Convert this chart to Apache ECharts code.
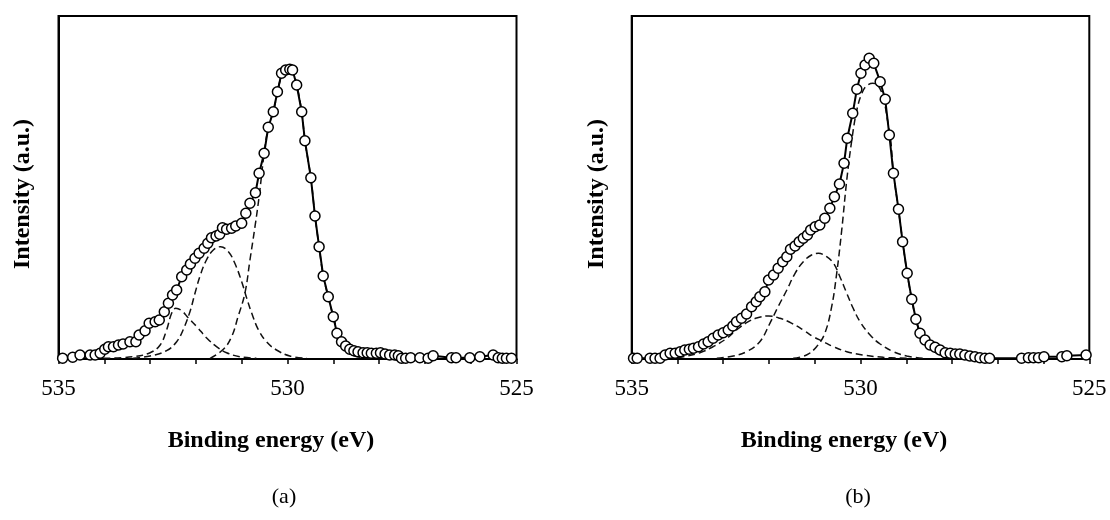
<!DOCTYPE html>
<html>
<head>
<meta charset="utf-8">
<script src="https://cdn.jsdelivr.net/npm/echarts@6/dist/echarts.min.js"></script>
<style>
html,body{margin:0;padding:0;background:#fff;}
#chart{width:1110px;height:520px;}
</style>
</head>
<body>
<div id="chart"></div>
<script>
// ---------- tick labels ----------
var xTickLabels = [535, 530, 525];
var panelLabels = ['(a)', '(b)'];
var xTitle = 'Binding energy (eV)';
var yTitle = 'Intensity (a.u.)';

// ---------- panel (a): measured points [binding energy eV, intensity a.u.] ----------
var dataA = [
[534.91,0.7],[534.69,1.7],[534.53,4],[534.31,4],[534.20,4],[534.09,5.7],[533.99,9.7],[533.91,12.3],
[533.80,12.3],[533.69,14],[533.59,15],[533.44,17.3],[533.31,17.3],[533.24,24],[533.11,28.3],[533.02,35.7],
[532.89,37.3],[532.80,39],[532.69,47.3],[532.60,55.7],[532.51,64],[532.42,69],[532.31,82.3],[532.20,89],
[532.12,95],[532.02,100.7],[531.93,105.7],[531.82,110.7],[531.74,115.7],[531.66,121.3],[531.56,123],
[531.48,124.7],[531.42,131.3],[531.33,129.7],[531.22,130.7],[531.13,133],[531.00,135.7],[530.91,145.7],
[530.82,155.7],[530.70,166.3],[530.62,185.7],[530.51,205.7],[530.42,231.7],[530.31,247.3],[530.22,267.3],
[530.13,285.7],[530.04,289],[529.95,289.7],[529.89,289],[529.80,274],[529.69,247.3],[529.62,218.3],
[529.49,181.3],[529.40,143],[529.31,112.3],[529.22,83],[529.11,62.3],[529.00,42.3],[528.92,25.7],
[528.82,17.3],[528.73,13],[528.64,9.7],[528.55,8.3],[528.46,7.3],[528.35,6.3],[528.26,6.3],[528.17,5.7],
[528.06,5.7],[527.97,6.3],[527.87,5],[527.77,4],[527.66,4],[527.58,3.3],[527.51,0.7],[527.42,0.7],
[527.31,1.3],[527.11,1.3],[526.93,0.7],[526.82,3.3],[526.42,1.3],[526.32,1.3],[526.02,1.3],[525.80,2.3],
[525.51,4],[525.40,1.3],[525.31,0.7],[525.22,0.7],[525.11,0.7]
];
var comp1A = [
[534.02,0.7],[533.37,2.3],[533.00,6.3],[532.78,14],[532.64,29],[532.53,45.7],[532.44,50.7],[532.31,48.3],
[532.17,41.3],[531.98,32.3],[531.77,21.3],[531.55,12.3],[531.33,6.3],[531.04,2.3],[530.68,0.7]
];
var comp2A = [
[533.37,0.7],[533.00,3],[532.64,8.3],[532.42,17.3],[532.28,29],[532.13,47.3],[532.02,65.7],[531.91,83],
[531.77,99],[531.62,109],[531.46,112.3],[531.29,107.3],[531.15,95.7],[531.00,77.3],[530.89,60.7],
[530.78,45.7],[530.64,29.7],[530.46,17.3],[530.24,9],[529.95,3],[529.58,0.7]
];
var comp3A = [
[531.69,0.7],[531.40,9.7],[531.22,22.3],[531.08,42.3],[530.93,65.7],[530.82,99],[530.71,132.3],
[530.62,162.3],[530.51,205.7],[530.42,231.7],[530.31,247.3],[530.22,266.3],[530.13,282.3],[530.02,288],
[529.91,288.3],[529.80,274],[529.69,247.3],[529.62,218.3],[529.49,181.3],[529.40,143],[529.31,112.3],
[529.22,83],[529.11,62.3],[529.00,42.3],[528.89,25.7],[528.78,14],[528.64,5.7],[528.42,1.7],[528.13,0.7]
];

// ---------- panel (b) ----------
var dataB = [
[534.96,0.7],[534.88,0.7],[534.60,0.7],[534.49,0.7],[534.38,0.7],[534.27,4],[534.16,5.7],[534.05,5.7],
[533.94,7.3],[533.84,9],[533.74,9.7],[533.65,10.7],[533.54,12.3],[533.43,15],[533.33,17.3],[533.22,20.7],
[533.11,24],[533.00,26.3],[532.89,29],[532.79,33],[532.71,37.3],[532.60,40.7],[532.49,45],[532.38,52.3],
[532.28,57.3],[532.20,62.3],[532.09,67.3],[532.01,79],[531.90,84],[531.80,90.7],[531.70,97.3],
[531.61,102.3],[531.53,109.7],[531.43,113],[531.34,117.3],[531.25,120.7],[531.16,124],[531.09,129],
[530.99,132.3],[530.89,134],[530.78,140.7],[530.67,150.7],[530.57,162.3],[530.46,175],[530.36,195.7],
[530.29,220.7],[530.17,245.7],[530.08,269.7],[529.99,285.7],[529.90,294],[529.81,300.7],[529.71,295.7],
[529.57,277.3],[529.46,259.7],[529.37,224],[529.28,185.7],[529.17,149.7],[529.08,117.3],[528.98,85.7],
[528.88,59.7],[528.79,39.7],[528.70,25.7],[528.59,19],[528.48,14],[528.37,11.7],[528.26,9],[528.15,6.3],
[528.04,5.7],[527.93,5],[527.83,5],[527.72,4],[527.61,3],[527.50,2.3],[527.39,1.3],[527.28,0.7],
[527.18,0.7],[526.48,0.7],[526.33,1.3],[526.22,1.3],[526.11,1.3],[525.99,2.3],[525.60,2.3],[525.49,3.3],
[525.07,4]
];
var comp1B = [
[534.24,0.7],[533.87,2.3],[533.51,6.3],[533.22,12.3],[532.92,20.7],[532.71,29],[532.49,36.3],[532.27,41],
[532.01,43],[531.76,40.7],[531.50,35.7],[531.25,29],[531.03,22.3],[530.81,17.3],[530.59,12.3],[530.30,7.3],
[529.94,4],[529.50,1.7],[528.99,0.7]
];
var comp2B = [
[533.14,0.7],[532.78,3],[532.49,7.3],[532.20,17.3],[531.98,35.7],[531.80,52.3],[531.61,69],[531.43,85.7],
[531.25,97.3],[531.07,104],[530.92,105.7],[530.74,102.3],[530.59,95.7],[530.45,82.3],[530.30,65.7],
[530.16,50.7],[530.01,37.3],[529.79,24],[529.57,15],[529.28,7.3],[528.99,3],[528.63,0.7]
];
var comp3B = [
[531.47,0.7],[531.18,4],[530.96,12.3],[530.78,25.7],[530.63,52.3],[530.52,85.7],[530.41,129],[530.30,179],
[530.19,219],[530.08,249],[529.97,265.7],[529.87,273],[529.73,275.7],[529.61,273],[529.50,260.7],
[529.41,239],[529.34,219],[529.28,185.7],[529.17,149.7],[529.08,117.3],[528.98,85.7],[528.88,59.7],
[528.79,39.7],[528.70,25.7],[528.59,17.3],[528.44,9],[528.19,3],[527.83,0.7]
];

var FONT = '"Liberation Serif", "Times New Roman", serif';
var grids = [
  {left: 58.5, top: 16, width: 458, height: 343},
  {left: 631.7, top: 16, width: 457.6, height: 343}
];

function xAx(i) {
  return {
    type: 'value', gridIndex: i, inverse: true, min: 525, max: 535, interval: 1,
    axisLine: {show: true, onZero: false, lineStyle: {color: '#000', width: 2}},
    axisTick: {show: true, inside: false, length: 5, lineStyle: {color: '#000', width: 1.5}},
    splitLine: {show: false},
    axisLabel: {
      show: true, margin: 18, color: '#000', fontFamily: FONT, fontSize: 23,
      showMinLabel: true, showMaxLabel: true,
      formatter: function (v) { return xTickLabels.indexOf(v) >= 0 ? String(v) : ''; }
    }
  };
}
function yAx(i) {
  return {
    type: 'value', gridIndex: i, min: 0, max: 343,
    axisLine: {show: true, lineStyle: {color: '#000', width: 2}},
    axisTick: {show: false}, axisLabel: {show: false}, splitLine: {show: false}
  };
}
function dataSeries(i, d) {
  return {
    type: 'line', xAxisIndex: i, yAxisIndex: i, data: d, clip: false, z: 5,
    symbol: 'circle', symbolSize: 10, showSymbol: true,
    itemStyle: {color: '#fff', borderColor: '#000', borderWidth: 1.5},
    lineStyle: {color: '#000', width: 2}
  };
}
function compSeries(i, d) {
  return {
    type: 'line', xAxisIndex: i, yAxisIndex: i, data: d, smooth: 0.4, showSymbol: false, z: 3,
    lineStyle: {color: '#111', width: 1.5, type: [7, 4]}
  };
}

var graphics = [];
var titleX = [271, 844];
var yTitleX = [23, 597];
var panelX = [284, 858];
for (var i = 0; i < 2; i++) {
  graphics.push({type: 'text', x: titleX[i], y: 441, style: {text: xTitle, font: 'bold 24px ' + FONT, fill: '#000', textAlign: 'center', textVerticalAlign: 'middle'}});
  graphics.push({type: 'text', x: yTitleX[i], y: 194, rotation: Math.PI / 2, style: {text: yTitle, font: 'bold 24px ' + FONT, fill: '#000', textAlign: 'center', textVerticalAlign: 'middle'}});
  graphics.push({type: 'text', x: panelX[i], y: 497, style: {text: panelLabels[i], font: '22px ' + FONT, fill: '#000', textAlign: 'center', textVerticalAlign: 'middle'}});
}

var chart = echarts.init(document.getElementById('chart'), null, {renderer: 'canvas'});
chart.setOption({
  animation: false,
  backgroundColor: '#fff',
  grid: grids.map(function (g) { return Object.assign({show: true, borderColor: '#000', borderWidth: 2, backgroundColor: 'transparent'}, g); }),
  xAxis: [xAx(0), xAx(1)],
  yAxis: [yAx(0), yAx(1)],
  series: [
    compSeries(0, comp1A), compSeries(0, comp2A), compSeries(0, comp3A), dataSeries(0, dataA),
    compSeries(1, comp1B), compSeries(1, comp2B), compSeries(1, comp3B), dataSeries(1, dataB)
  ],
  graphic: graphics
});
</script>
</body>
</html>
